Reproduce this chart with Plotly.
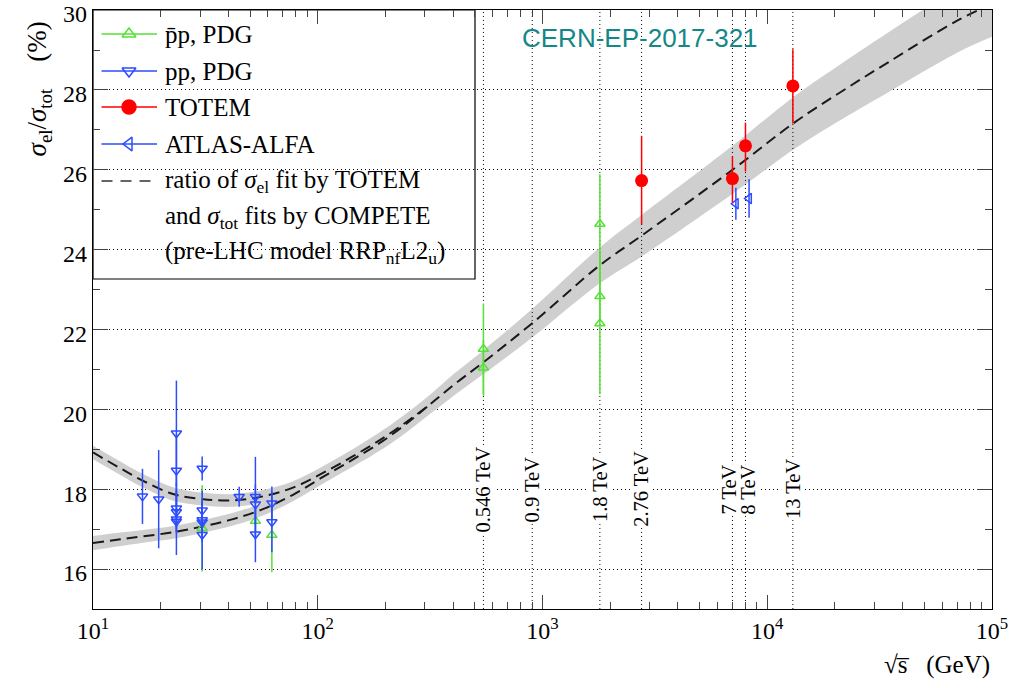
import math
import plotly.graph_objects as go

# ---------------- data ----------------
# model curve: upper low-energy branch continuing to high energy (sqrt(s) in GeV, ratio in %)
curveA_E = [10, 13, 16.7, 22.7, 30.9, 42, 57, 77.6, 105, 143, 195, 256, 315, 400, 543, 906,
            1792, 2760, 6890, 13340, 21680, 35180, 70300, 100000]
curveA_V = [18.92, 18.55, 18.21, 17.88, 17.75, 17.72, 17.82, 18.04, 18.40, 18.82, 19.28, 19.74, 20.12,
            20.60, 21.17, 22.17, 23.60, 24.35, 25.97, 27.20, 27.98, 28.72, 29.74, 30.15]
curveA_HW = [0.17, 0.17, 0.17, 0.17, 0.16, 0.16, 0.16, 0.16, 0.17, 0.18, 0.20, 0.22, 0.24, 0.27, 0.30,
             0.36, 0.45, 0.52, 0.60, 0.66, 0.70, 0.75, 0.80, 0.82]
# lower low-energy branch
curveB_E = [10, 13, 16.7, 22.7, 30.9, 42, 57, 77.6, 105, 143, 195, 256, 315]
curveB_V = [16.65, 16.74, 16.82, 16.92, 17.07, 17.25, 17.50, 17.86, 18.30, 18.74, 19.21, 19.70, 20.12]
curveB_HW = [0.18, 0.17, 0.16, 0.16, 0.16, 0.16, 0.16, 0.16, 0.17, 0.18, 0.20, 0.22, 0.24]

# pp, PDG
pp_E = [16.6, 19.6, 23.5, 23.5, 23.5, 23.5, 23.5, 23.5, 30.6, 30.6, 30.6, 30.6, 30.6,
        44.7, 52.8, 52.8, 52.8, 62.5, 62.5]
pp_V = [17.82, 17.75, 19.40, 18.47, 17.52, 17.43, 17.25, 17.19, 18.52, 17.47, 17.23, 17.17, 16.86,
        17.81, 17.81, 17.62, 16.87, 17.65, 17.18]
pp_err = [0.69, 1.23, 1.32, 0.90, 0.45, 0.50, 0.90, 0.30, 0.30, 0.50, 0.40, 0.50, 0.86,
          0.25, 1.00, 0.50, 0.70, 0.42, 0.76]

# pbar-p, PDG
pbp_E = [30.6, 52.8, 62.5, 546, 546, 1800, 1800, 1800]
pbp_V = [17.02, 17.20, 16.85, 21.51, 21.04, 24.64, 22.83, 22.15]
pbp_err = [1.08, 0.40, 0.93, 1.14, 0.70, 1.25, 0.60, 1.77]

# TOTEM
totem_E = [2760, 7000, 8000, 13000]
totem_V = [25.73, 25.78, 26.60, 28.10]
totem_ep = [1.12, 0.56, 0.58, 0.92]
totem_em = [1.10, 0.60, 0.64, 0.94]

# ATLAS-ALFA
atlas_E = [7250, 8300]
atlas_V = [25.15, 25.28]
atlas_err = [0.40, 0.48]

# energy markers
line_E = [546, 900, 1800, 2760, 7000, 8000, 13000]
line_lab = ["0.546 TeV", "0.9 TeV", "1.8 TeV", "2.76 TeV", "7 TeV", "8 TeV", "13 TeV"]
line_shift = [0, 0, 0, 0, -3, 3, 0]

x_tickvals = [10, 100, 1000, 10000, 100000]
x_ticktext = ["10<sup>1</sup>", "10<sup>2</sup>", "10<sup>3</sup>", "10<sup>4</sup>", "10<sup>5</sup>"]

# ---------------- style ----------------
SERIF = "Liberation Serif"
GREEN = "rgb(85,225,55)"
BLUE = "rgb(45,75,255)"
RED = "rgb(255,0,0)"
BAND = "rgb(207,207,207)"

fig = go.Figure()


def add_band(E, V, HW):
    lo = [v - h for v, h in zip(V, HW)]
    hi = [v + h for v, h in zip(V, HW)]
    fig.add_trace(go.Scatter(x=E, y=lo, mode="lines", line=dict(width=0, color=BAND, shape="spline"),
                             showlegend=False, hoverinfo="skip"))
    fig.add_trace(go.Scatter(x=E, y=hi, mode="lines", line=dict(width=0, color=BAND, shape="spline"),
                             fill="tonexty", fillcolor=BAND, showlegend=False, hoverinfo="skip"))


add_band(curveB_E, curveB_V, curveB_HW)
add_band(curveA_E, curveA_V, curveA_HW)

# vertical dotted energy lines
for E in line_E:
    fig.add_trace(go.Scatter(x=[E, E], y=[15, 30], mode="lines",
                             line=dict(color="black", width=1, dash="1px,3px"),
                             showlegend=False, hoverinfo="skip"))

for E, V in ((curveB_E, curveB_V), (curveA_E, curveA_V)):
    fig.add_trace(go.Scatter(x=E, y=V, mode="lines",
                             line=dict(color="#1a1a1a", width=2, dash="11px,6px", shape="spline"),
                             showlegend=False))

fig.add_trace(go.Scatter(x=pbp_E, y=pbp_V, mode="markers",
                         marker=dict(symbol="triangle-up-open", size=9, color=GREEN, line=dict(width=1.5, color=GREEN)),
                         error_y=dict(type="data", array=pbp_err, color=GREEN, thickness=1.5, width=0),
                         showlegend=False))
fig.add_trace(go.Scatter(x=pp_E, y=pp_V, mode="markers",
                         marker=dict(symbol="triangle-down-open", size=9, color=BLUE, line=dict(width=1.5, color=BLUE)),
                         error_y=dict(type="data", array=pp_err, color=BLUE, thickness=1.5, width=0),
                         showlegend=False))
fig.add_trace(go.Scatter(x=atlas_E, y=atlas_V, mode="markers",
                         marker=dict(symbol="triangle-left-open", size=9, color=BLUE, line=dict(width=1.5, color=BLUE)),
                         error_y=dict(type="data", array=atlas_err, color=BLUE, thickness=1.5, width=0),
                         showlegend=False))
fig.add_trace(go.Scatter(x=totem_E, y=totem_V, mode="markers",
                         marker=dict(symbol="circle", size=13, color=RED),
                         error_y=dict(type="data", array=totem_ep, arrayminus=totem_em, color=RED,
                                      thickness=1.5, width=0),
                         showlegend=False))

# ---------------- hand-drawn legend (pixel overlay axes) ----------------
leg_rows = [34, 71, 107, 144, 181, 217, 252]
leg_items = [
    ("p\u0304p, PDG", GREEN, "triangle-up-open", 12),
    ("pp, PDG", BLUE, "triangle-down-open", 12),
    ("TOTEM", RED, "circle", 14),
    ("ATLAS-ALFA", BLUE, "triangle-left-open", 12),
]
for (txt, col, sym, sz), yy in zip(leg_items, leg_rows):
    fig.add_trace(go.Scatter(x=[101.5, 157], y=[yy, yy], mode="lines", line=dict(color=col, width=1.5),
                             xaxis="x2", yaxis="y2", showlegend=False, hoverinfo="skip"))
    fig.add_trace(go.Scatter(x=[129], y=[yy], mode="markers",
                             marker=dict(symbol=sym, size=sz, color=col, line=dict(width=1.5, color=col)),
                             xaxis="x2", yaxis="y2", showlegend=False, hoverinfo="skip"))
fig.add_trace(go.Scatter(x=[101.5, 157], y=[leg_rows[4]] * 2, mode="lines",
                         line=dict(color="#333333", width=1.5, dash="11px,8px"),
                         xaxis="x2", yaxis="y2", showlegend=False, hoverinfo="skip"))

leg_texts = [it[0] for it in leg_items] + [
    "ratio of <i>σ</i><sub>el</sub> fit by TOTEM",
    "and <i>σ</i><sub>tot</sub> fits by COMPETE",
    "(pre-LHC model RRP<sub>nf</sub>L2<sub>u</sub>)",
]
annotations = []
for txt, yy in zip(leg_texts, leg_rows):
    annotations.append(dict(x=163, y=yy, xref="x2", yref="y2", text=txt, showarrow=False,
                            xanchor="left", yanchor="middle", font=dict(family=SERIF, size=25, color="black")))

# energy labels
for E, lab, sh in zip(line_E, line_lab, line_shift):
    annotations.append(dict(x=math.log10(E), y=18.0, xref="x", yref="y", text=lab, textangle=-90,
                            showarrow=False, xanchor="center", yanchor="middle", xshift=sh,
                            bgcolor="white", borderpad=0,
                            font=dict(family=SERIF, size=20.5, color="black")))

annotations.append(dict(x=0.6085, y=0.953, xref="paper", yref="paper", text="CERN-EP-2017-321",
                        showarrow=False, xanchor="center", yanchor="middle",
                        font=dict(family="Liberation Sans", size=26, color="rgb(20,135,135)")))
annotations.append(dict(x=-0.059, y=0.985, xref="paper", yref="paper",
                        text="<i>σ</i><sub>el</sub>/<i>σ</i><sub>tot</sub>    (%)", textangle=-90,
                        showarrow=False, xanchor="center", yanchor="top",
                        font=dict(family=SERIF, size=27, color="black")))
annotations.append(dict(x=1.0, y=-0.093, xref="paper", yref="paper", text="√s\u0305   (GeV)",
                        showarrow=False, xanchor="right", yanchor="middle",
                        font=dict(family=SERIF, size=25, color="black")))

shapes = [dict(type="rect", xref="paper", yref="paper", x0=0, x1=(475 - 93) / 899, y0=1,
               y1=(609 - 279) / 599, line=dict(color="black", width=1.2), fillcolor="white", layer="between")]

fig.update_layout(
    width=1016, height=688,
    margin=dict(l=93, r=24, t=10, b=79),
    paper_bgcolor="white", plot_bgcolor="white",
    font=dict(family=SERIF, size=24, color="black"),
    showlegend=False,
    annotations=annotations,
    shapes=shapes,
    xaxis=dict(type="log", range=[1, 5], showline=True, linecolor="black", linewidth=1.2,
               mirror="allticks", ticks="inside", ticklen=14, tickwidth=1.2, tickcolor="#444",
               tickvals=x_tickvals, ticktext=x_ticktext, showgrid=False, zeroline=False, automargin=False,
               ticklabeloverflow="allow",
               minor=dict(ticks="inside", ticklen=7, tickwidth=1, tickcolor="#444", dtick="D1", showgrid=False),
               tickfont=dict(family=SERIF, size=24)),
    yaxis=dict(range=[14.999, 30.002], tick0=0, dtick=2, showline=True, linecolor="black", linewidth=1.2,
               mirror="allticks", ticks="inside", ticklen=15, tickwidth=1.2, tickcolor="#444",
               showgrid=True, gridcolor="black", gridwidth=1, griddash="1px,3px", zeroline=False,
               automargin=False, ticklabeloverflow="allow", ticklabelshift=4,
               minor=dict(ticks="inside", ticklen=7, tickwidth=1, tickcolor="#444", dtick=1, showgrid=False),
               tickfont=dict(family=SERIF, size=24)),
    xaxis2=dict(overlaying="x", range=[93, 992], visible=False, anchor="y2", automargin=False),
    yaxis2=dict(overlaying="y", range=[609, 10], visible=False, anchor="x2", automargin=False),
)

# remove the browser's default 8 px body margin so the figure fills the window exactly
fig.write_html("out.html", config={"displayModeBar": False},
               post_script="document.body.style.margin='0px';")
